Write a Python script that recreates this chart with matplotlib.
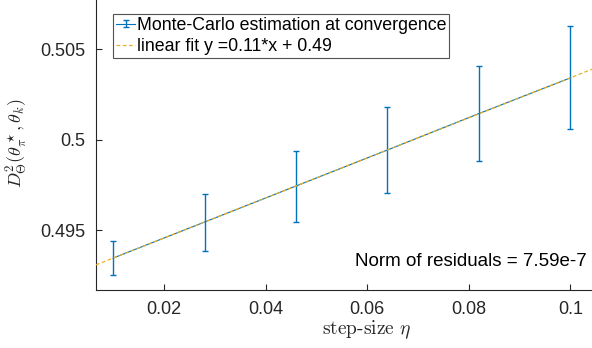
import numpy as np
import matplotlib
matplotlib.use("Agg")
import matplotlib.pyplot as plt
from matplotlib.container import ErrorbarContainer
from matplotlib.legend_handler import HandlerErrorbar

# ------------------------------------------------------------
# Data
step_size = [0.01, 0.028, 0.046, 0.064, 0.082, 0.1]
distance = [0.49346, 0.49545, 0.49744, 0.49943, 0.50144, 0.50341]
err = [0.00093, 0.00157, 0.00196, 0.00238, 0.00262, 0.00284]
x_ticks = [0.02, 0.04, 0.06, 0.08, 0.1]
y_ticks = [0.495, 0.5, 0.505]
y_tick_labels = ["0.495", "0.5", "0.505"]
x_tick_labels = ["0.02", "0.04", "0.06", "0.08", "0.1"]

blue = "#0072BD"
orange = "#EDB120"
dark = "#262626"

plt.rcParams['font.family'] = ['Liberation Sans', 'DejaVu Sans']
plt.rcParams['mathtext.fontset'] = 'cm'

# ------------------------------------------------------------
# Linear fit
p = np.polyfit(step_size, distance, 1)
xlim = (0.00665, 0.1054)
xfit = np.linspace(xlim[0], xlim[1], 50)
yfit = np.polyval(p, xfit)

# ------------------------------------------------------------
# Plot
fig = plt.figure(figsize=(5.92, 3.48), dpi=100)
ax = fig.add_axes([96 / 592, (348 - 290) / 348, 1 - 96 / 592 + 0.01, 290 / 348 + 0.01])

eb = ax.errorbar(step_size, distance, yerr=err, color=blue, lw=0.8, elinewidth=1.0,
                 capsize=2.5, capthick=1.0, zorder=2,
                 label="Monte-Carlo estimation at convergence")
fit, = ax.plot(xfit, yfit, "--", color=orange, lw=0.9, dashes=(3, 2), zorder=3,
               label="linear fit y =0.11*x + 0.49")

ax.set_xlim(xlim)
ax.set_ylim(0.4917, 0.5079)
ax.set_xticks(x_ticks)
ax.set_xticklabels(x_tick_labels)
ax.set_yticks(y_ticks)
ax.set_yticklabels(y_tick_labels)
ax.tick_params(direction="in", length=4, width=0.8, colors=dark, labelsize=13, pad=8)

for s in ["top", "right"]:
    ax.spines[s].set_visible(False)
for s in ["left", "bottom"]:
    ax.spines[s].set_color(dark)
    ax.spines[s].set_linewidth(0.8)

ax.set_xlabel(r"step-size $\eta$", fontfamily="cmr10", fontsize=14, color=dark, labelpad=0)
ax.xaxis.label.set_x(0.54)
ax.set_ylabel(r"$D^2_\Theta(\theta^\star_\pi,\theta_k)$", fontsize=13, color=dark, labelpad=8)

ax.text(0.978, 0.083, "Norm of residuals = 7.59e-7", transform=ax.transAxes,
        ha="right", va="baseline", fontsize=13.5, color="black")

leg = ax.legend([eb, fit], [eb.get_label(), fit.get_label()],
                handler_map={ErrorbarContainer: HandlerErrorbar(yerr_size=0.22)},
                loc="upper left", bbox_to_anchor=(0.034, 0.94), fontsize=12.8,
                frameon=True, fancybox=False, borderpad=0.15, handlelength=1.1,
                handletextpad=0.1, labelspacing=0.25, borderaxespad=0)
leg.get_frame().set_edgecolor(dark)
leg.get_frame().set_linewidth(0.8)

plt.savefig("out.png", dpi=100)
